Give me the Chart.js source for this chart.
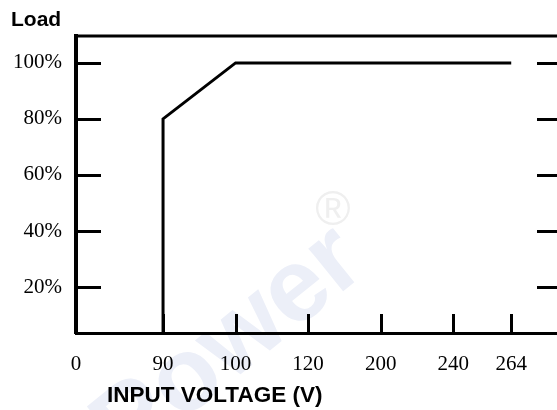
<!DOCTYPE html>
<html>
<head>
<meta charset="utf-8">
<script src="https://cdn.jsdelivr.net/npm/chart.js@4"></script>
<style>
  html, body { margin: 0; padding: 0; background: #fff; overflow: hidden; }
  #wrap { width: 570px; height: 410px; position: relative; }
</style>
</head>
<body>
<div id="wrap"><canvas id="derating"></canvas></div>
<script>
// x axis in the source is not to scale: each voltage gets its own slot
const voltageTicks = [0, 90, 100, 120, 200, 240, 264];
const voltageSlots = [-0.2, 1, 2, 3, 4, 5, 5.8];
const loadTicks = [20, 40, 60, 80, 100];

// derating curve
const curveVoltage = [90, 90, 100, 264];
const curveLoad = [0, 80, 100, 100];

const slotOf = v => voltageSlots[voltageTicks.indexOf(v)];
const labelOf = s => {
    const i = voltageSlots.findIndex(x => Math.abs(x - s) < 1e-6);
    return i < 0 ? '' : String(voltageTicks[i]);
};

const framePlugin = {
    id: 'frame',
    beforeDraw(chart) {
        const {ctx} = chart;
        // faint watermark, under everything
        ctx.save();
        ctx.fillStyle = '#eceff8';
        ctx.translate(225, 350);
        ctx.rotate(-0.68);
        ctx.font = 'bold 104px "Liberation Sans"';
        ctx.textBaseline = 'middle';
        ctx.fillText('Power', -150, 0);
        ctx.restore();
        ctx.save();
        ctx.fillStyle = '#efefef';
        ctx.font = '48px "Liberation Sans"';
        ctx.textAlign = 'center';
        ctx.textBaseline = 'middle';
        ctx.fillText('\u00AE', 333, 212);
        ctx.restore();
    },
    afterDraw(chart) {
        const {ctx, chartArea: a, scales} = chart;
        ctx.save();
        ctx.strokeStyle = '#000';
        ctx.lineWidth = 3;
        ctx.beginPath();
        ctx.moveTo(a.left, a.top);
        ctx.lineTo(a.right, a.top);
        ctx.lineTo(a.right, a.bottom);
        ctx.stroke();
        // inward tick marks
        scales.y.ticks.forEach(t => {
            const y = Math.round(scales.y.getPixelForValue(t.value)) + 0.5;
            ctx.beginPath();
            ctx.moveTo(a.left, y);
            ctx.lineTo(a.left + 25, y);
            ctx.moveTo(a.right - 25, y);
            ctx.lineTo(a.right, y);
            ctx.stroke();
        });
        scales.x.ticks.forEach(t => {
            if (t.value <= scales.x.min) return;
            const x = Math.round(scales.x.getPixelForValue(t.value)) + 0.5;
            ctx.beginPath();
            ctx.moveTo(x, a.bottom);
            ctx.lineTo(x, a.bottom - 19);
            ctx.stroke();
        });
        ctx.fillStyle = '#000';
        ctx.textBaseline = 'middle';
        ctx.font = 'bold 21px "Liberation Sans"';
        ctx.fillText('Load', 11, 20);
        ctx.font = 'bold 22.5px "Liberation Sans"';
        ctx.fillText('INPUT VOLTAGE (V)', 107, 396);
        ctx.restore();
    }
};

const chart = new Chart(document.getElementById('derating'), {
    type: 'line',
    data: {
        datasets: [{
            data: curveVoltage.map((v, i) => ({x: slotOf(v), y: curveLoad[i]})),
            borderColor: '#000',
            borderWidth: 3,
            borderJoinStyle: 'miter',
            pointRadius: 0,
            tension: 0
        }]
    },
    options: {
        responsive: true,
        maintainAspectRatio: false,
        animation: false,
        layout: { padding: { top: 36, right: 8, left: 0, bottom: 0 } },
        plugins: {
            legend: { display: false },
            tooltip: { enabled: false }
        },
        scales: {
            x: {
                type: 'linear',
                min: -0.2,
                max: 6.5,
                afterBuildTicks: s => { s.ticks = voltageSlots.map(v => ({value: v})); },
                afterFit: s => { s.height = 77; },
                grid: { display: false, drawTicks: false },
                border: { display: true, color: '#000', width: 3 },
                ticks: {
                    autoSkip: false,
                    maxRotation: 0,
                    padding: 19,
                    color: '#000',
                    font: { family: '"Liberation Serif"', size: 21 },
                    callback: v => labelOf(v)
                }
            },
            y: {
                min: 3.6,
                max: 109.6,
                afterBuildTicks: s => { s.ticks = loadTicks.map(v => ({value: v})); },
                afterFit: s => { s.width = 76; },
                grid: { display: false, drawTicks: false },
                border: { display: true, color: '#000', width: 4 },
                ticks: {
                    padding: 14,
                    color: '#000',
                    font: { family: '"Liberation Serif"', size: 21 },
                    callback: v => v + '%'
                }
            }
        }
    },
    plugins: [framePlugin]
});
</script>
</body>
</html>
